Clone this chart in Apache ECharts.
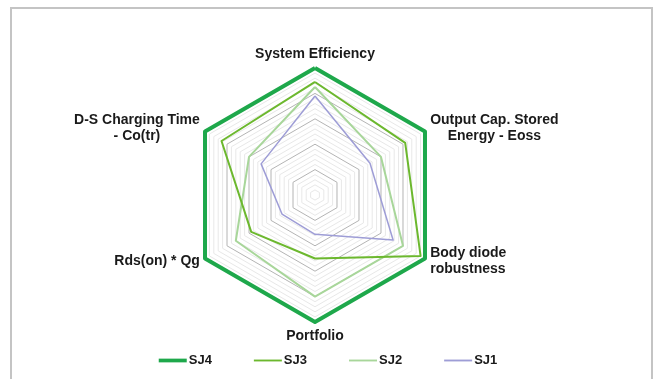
<!DOCTYPE html>
<html>
<head>
<meta charset="utf-8">
<style>
  html, body { margin: 0; padding: 0; background: #ffffff; }
  #chart { width: 656px; height: 379px; }
</style>
<script src="https://cdn.jsdelivr.net/npm/echarts@6/dist/echarts.min.js"></script>
</head>
<body>
<div id="chart"></div>
<script>
// Radar axes, listed counter-clockwise from the top
const axisNames = [
  'System Efficiency',
  'D-S Charging Time\n- Co(tr)',
  'Rds(on) * Qg',
  'Portfolio',
  'Body diode\nrobustness',
  'Output Cap. Stored\nEnergy - Eoss'
];
// how each axis name's lines sit inside its block
const axisNameAlign = ['center', 'center', 'center', 'center', 'left', 'center'];
const axisMax = 5;

const seriesNames = ['SJ4', 'SJ3', 'SJ2', 'SJ1'];
const sj4 = [5, 5, 5, 5, 5, 5];
const sj3 = [4.45, 4.25, 2.9, 2.5, 4.8, 4.1];
const sj2 = [4.25, 3.0, 3.6, 4.0, 4.0, 3.0];
const sj1 = [3.9, 2.45, 1.5, 1.55, 3.55, 2.5];

const colors = ['#1ea84b', '#6cb82e', '#a8d69a', '#9e9dd6'];
const widths = [4, 2, 2, 1.5];
const values = [sj4, sj3, sj2, sj1];

const chart = echarts.init(document.getElementById('chart'), null, { renderer: 'canvas' });

// ring colours: every fifth ring darker
const ringColors = ['#b4b4b4', '#e8e8e8', '#e8e8e8', '#e8e8e8', '#e8e8e8'];

const legendIcons = [
  'path://M0,0H30V4H0Z',
  'path://M0,0M30,4M0,1H30V3H0Z',
  'path://M0,0M30,4M0,1H30V3H0Z',
  'path://M0,0M30,4M0,1H30V3H0Z'
];

const fontFamily = 'Liberation Sans, Arial, sans-serif';
const nameStyle = {
  color: '#1a1a1a',
  fontFamily: fontFamily,
  fontWeight: 'bold',
  fontSize: 14,
  lineHeight: 16
};

chart.setOption({
  animation: false,
  backgroundColor: '#ffffff',
  graphic: [{
    type: 'rect',
    shape: { x: 11, y: 8, width: 641, height: 390 },
    style: { fill: 'none', stroke: '#c4c4c4', lineWidth: 2 },
    silent: true
  }],
  legend: {
    bottom: 7,
    left: 'center',
    itemWidth: 28,
    itemHeight: 4,
    itemGap: 42,
    textStyle: { fontFamily: fontFamily, fontWeight: 'bold', fontSize: 13, color: '#1a1a1a', padding: [0, 0, 0, -3] },
    data: seriesNames.map((n, i) => ({
      name: n,
      icon: legendIcons[i],
      itemStyle: { color: colors[i], borderWidth: 0 }
    }))
  },
  radar: {
    center: [315, 195],
    radius: 127,
    shape: 'polygon',
    splitNumber: 25,
    startAngle: 90,
    nameGap: 6,
    indicator: axisNames.map(n => ({ name: n, max: axisMax, min: 0 })),
    axisName: {
      color: '#1a1a1a',
      fontFamily: fontFamily,
      fontWeight: 'bold',
      fontSize: 14,
      formatter: function (name) {
        const k = axisNames.indexOf(name);
        const style = axisNameAlign[k] === 'left' ? 'l' : 'c';
        return name.split('\n').map(s => '{' + style + '|' + s + '}').join('\n');
      },
      rich: {
        c: Object.assign({ align: 'center' }, nameStyle),
        l: Object.assign({ align: 'left' }, nameStyle)
      }
    },
    axisLine: { show: false },
    axisTick: { show: false },
    axisLabel: { show: false },
    splitArea: { show: false },
    splitLine: { lineStyle: { color: ringColors, width: 1 } }
  },
  series: [{
    type: 'radar',
    symbol: 'none',
    data: seriesNames.map((n, i) => ({
      name: n,
      value: values[i],
      lineStyle: { color: colors[i], width: widths[i] },
      itemStyle: { color: colors[i] }
    })).reverse()
  }]
});
</script>
</body>
</html>
